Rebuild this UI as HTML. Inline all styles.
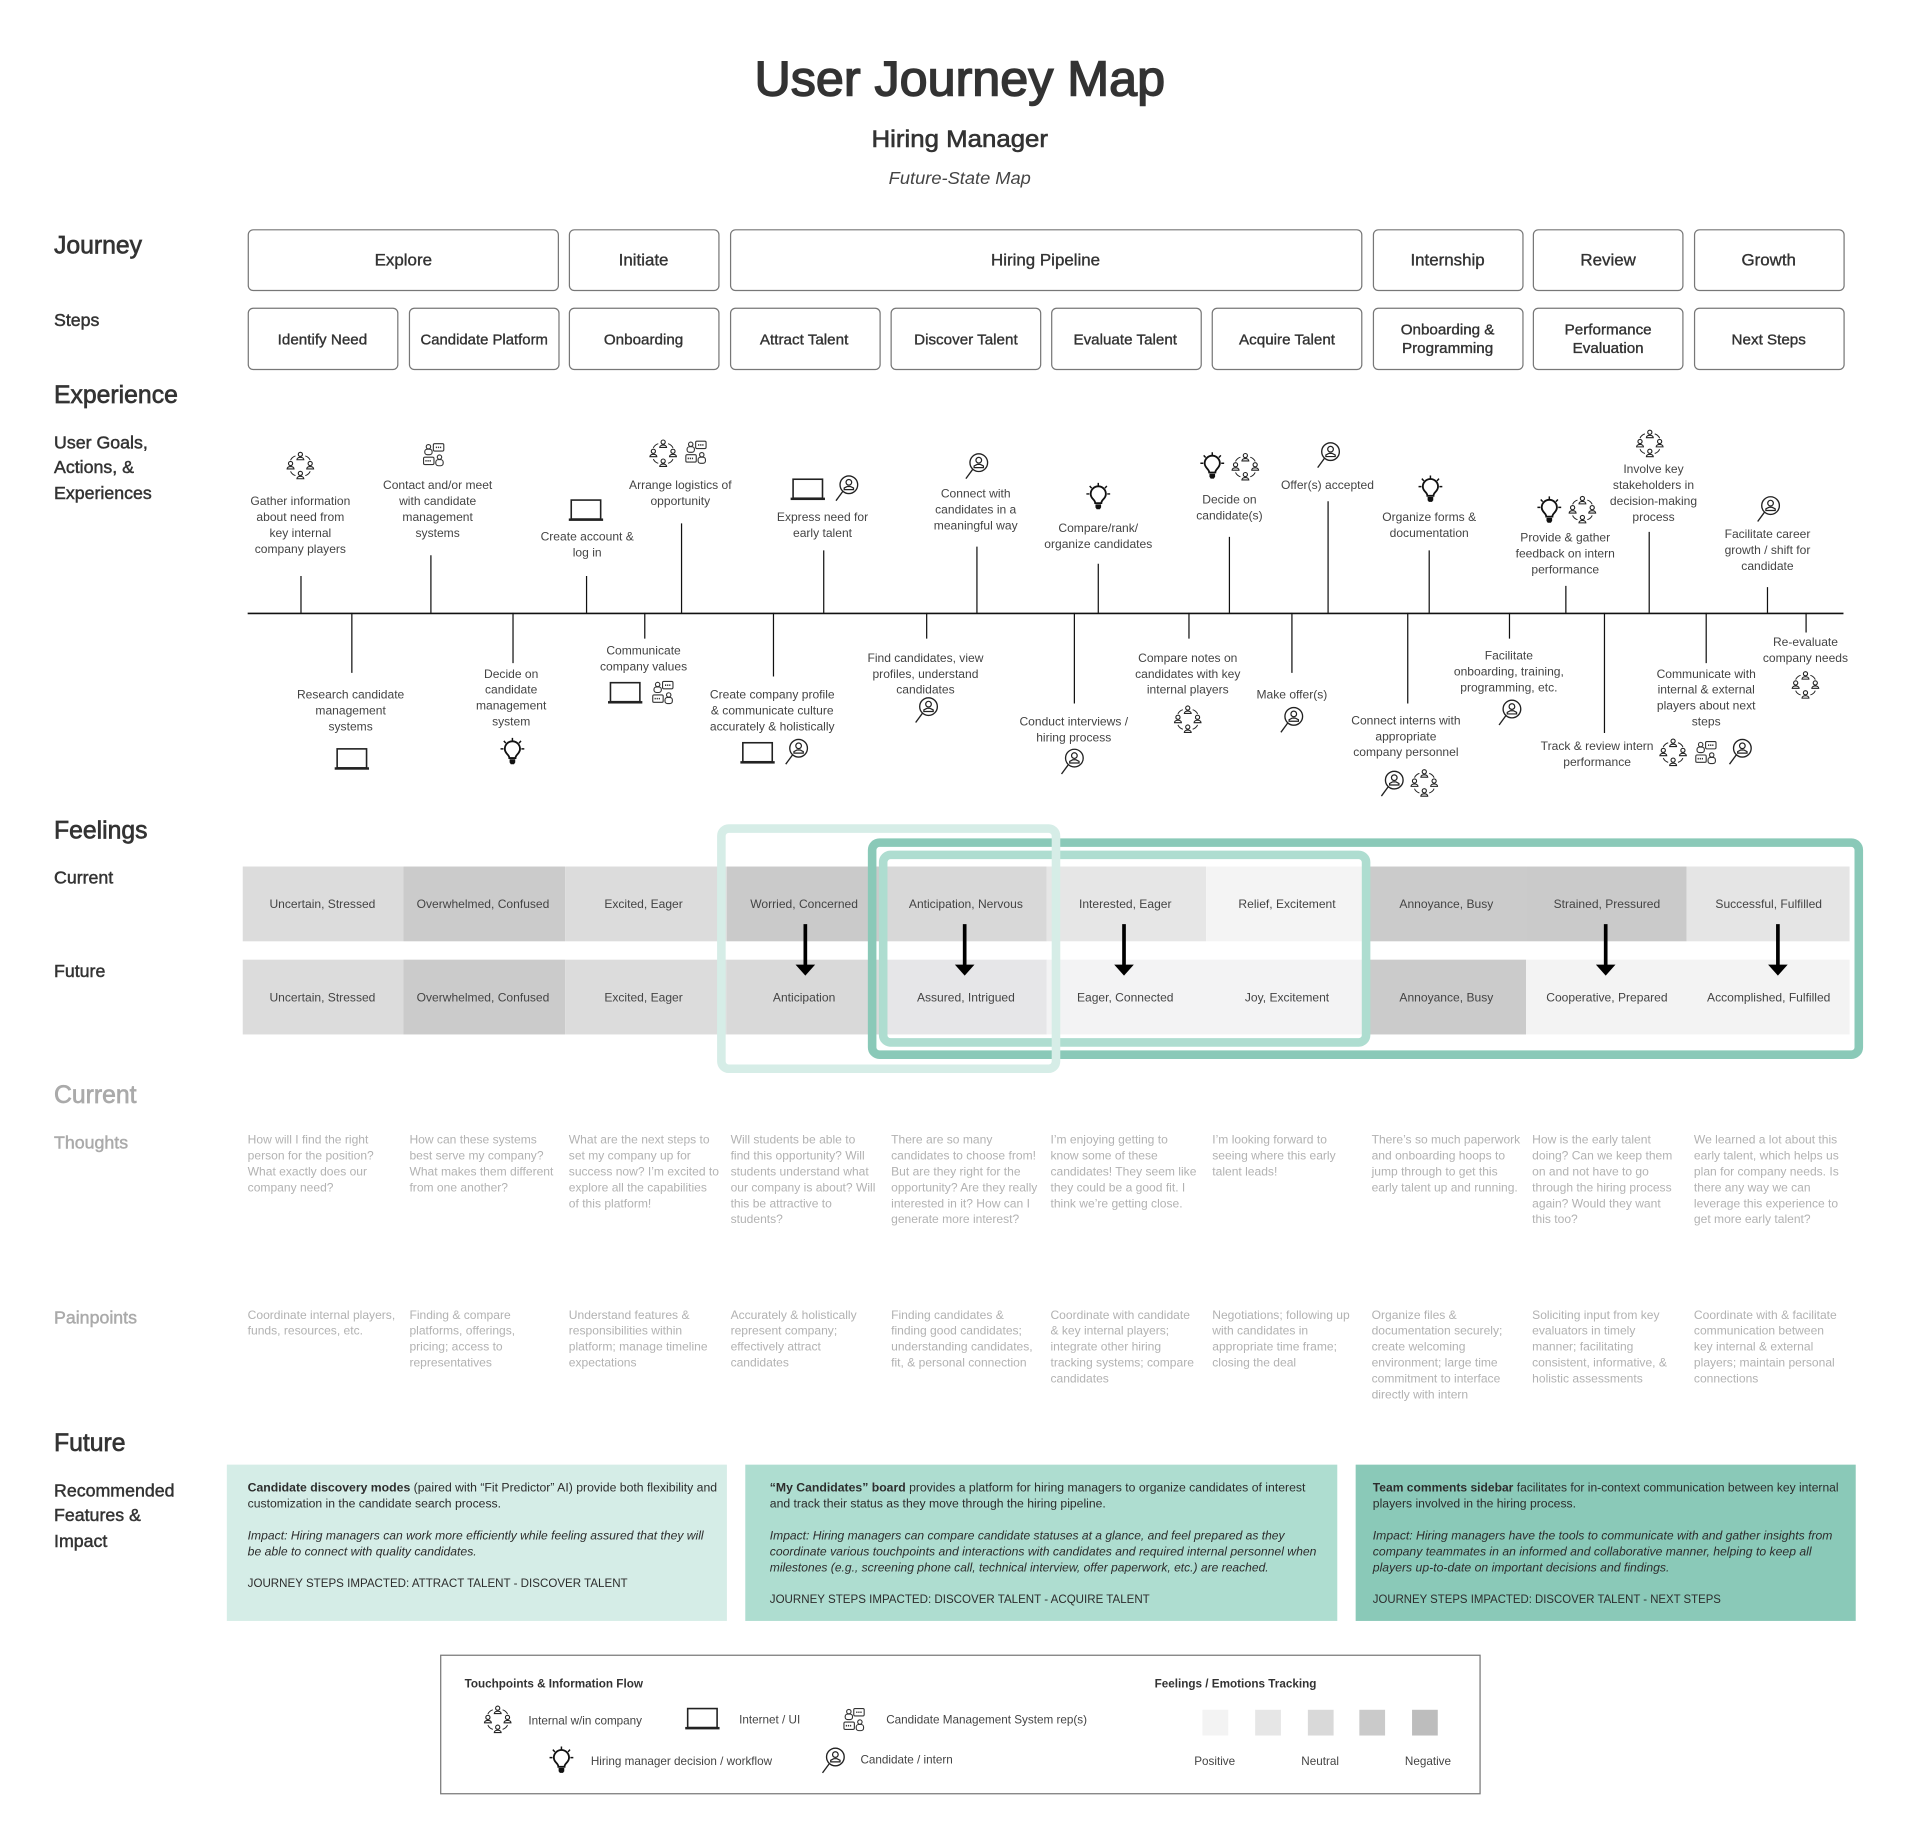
<!DOCTYPE html>
<html><head><meta charset="utf-8"><title>User Journey Map</title>
<style>
html,body{margin:0;padding:0;background:#fff}
svg{display:block}
text{font-family:"Liberation Sans",sans-serif}
.c text{text-anchor:middle;font-size:9.85px;fill:#444}
.th text{font-size:9.85px;fill:#b2b2b2}
.b text{font-size:12.4px;text-anchor:middle;fill:#333;stroke:#333;stroke-width:.3}
.b .j{font-size:13.8px}
.h{font-size:20.2px;fill:#333;stroke:#333;stroke-width:.55}
.s{font-size:14.5px;fill:#333;stroke:#333;stroke-width:.38}
.r text{font-size:9.95px;fill:#2c2c2c}
.f text{font-size:9.85px;text-anchor:middle;fill:#444}
.ic{fill:none;stroke:#222;stroke-width:.9}
.lg text{font-size:9.55px;fill:#444}
</style></head><body>
<svg xmlns="http://www.w3.org/2000/svg" width="1922" height="1825" viewBox="0 0 1568 1489">
<defs>
<g id="pn" class="ic"><circle cx="0" cy="-1.8" r="1.7"/><path d="M-2.8 2.6c0-2.6 5.6-2.6 5.6 0z"/></g>
<g id="ppl" stroke="#333" fill="none" stroke-width=".8">
<use href="#pn" x="0" y="-7.5"/><use href="#pn" x="-8" y="0"/><use href="#pn" x="8" y="0"/><use href="#pn" x="0" y="8"/>
<path d="M-4 -8Q-7 -7 -8 -4.500M4 -8Q7 -7 8 -4.500M-4 8Q-7 7 -8 4.500M4 8Q7 7 8 4.500" stroke="#222"/>
</g>
<g id="lap"><rect x="-12" y="-8" width="24" height="15.5" fill="#fff" stroke="#222" stroke-width="1.3"/><rect x="-14" y="7" width="28" height="2" fill="#222"/></g>
<g id="bulb"><path d="M-2.5 4.5c0-3-3.7-3.5-3.7-7.5a6.2 6.2 0 0 1 12.4 0c0 4-3.7 4.5-3.7 7.5z" fill="#fff" stroke="#111" stroke-width="1.5"/><path d="M-2.3 5.5h4.6v2.5l-1 1.5h-2.6l-1-1.5z" fill="#111"/><path d="M0 -12v2.6M-7 -9.5l1.6 1.8M7 -9.5l-1.6 1.8M-9.7 -3h2.4M9.7 -3h-2.4" stroke="#111" stroke-width="1.2"/></g>
<g id="mag"><circle cx="1.5" cy="-2.5" r="7.2" fill="#fff" stroke="#222" stroke-width="1.1"/><path d="M-3.500 3l-5.500 7.500" stroke="#222" stroke-width="1.1"/><circle cx="1.5" cy="-4.5" r="2.3" fill="none" stroke="#222"/><path d="M-2.300 1.500v-1.300l2.500-1.300h2.600l2.500 1.300v1.300z" fill="none" stroke="#222"/></g>
<g id="cms" fill="none" stroke="#333" stroke-width=".9"><circle cx="-5.5" cy="-6.5" r="1.8"/><rect x="-8.5" y="-4.5" width="6" height="4.5" rx="2"/><rect x="-1.5" y="-9" width="8.5" height="6" rx="1"/><path d="M.5 -6h4.500M-8 5h4.500" stroke-dasharray="1 .7" stroke-width="1.3"/><rect x="-9.5" y="2" width="8.5" height="6" rx="1"/><circle cx="3.5" cy="2" r="1.8"/><rect x=".5" y="4" width="6" height="5" rx="2"/></g>
</defs>
<rect width="1568" height="1489" fill="#fff"/>

<text x="783" y="78" text-anchor="middle" font-size="40" fill="#333" stroke="#333" stroke-width="1.2" textLength="335" lengthAdjust="spacingAndGlyphs">User Journey Map</text>
<text x="783" y="120" text-anchor="middle" font-size="19.5" fill="#333" stroke="#333" stroke-width=".5" textLength="144" lengthAdjust="spacingAndGlyphs">Hiring Manager</text>
<text x="783" y="150" text-anchor="middle" font-size="14" font-style="italic" fill="#444" textLength="116" lengthAdjust="spacingAndGlyphs">Future-State Map</text>

<text class="h" x="44" y="207">Journey</text>
<text class="s" x="44" y="266">Steps</text>
<text class="h" x="44" y="329">Experience</text>
<text class="s" x="44" y="366">User Goals,</text>
<text class="s" x="44" y="386">Actions, &amp;</text>
<text class="s" x="44" y="407">Experiences</text>
<text class="h" x="44" y="684">Feelings</text>
<text class="s" x="44" y="721">Current</text>
<text class="s" x="44" y="797">Future</text>
<text class="h" x="44" y="900" style="fill:#aaa;stroke:#aaa">Current</text>
<text class="s" x="44" y="937" style="fill:#aaa;stroke:#aaa">Thoughts</text>
<text class="s" x="44" y="1080" style="fill:#aaa;stroke:#aaa">Painpoints</text>
<text class="h" x="44" y="1184">Future</text>
<text class="s" x="44" y="1221">Recommended</text>
<text class="s" x="44" y="1241">Features &amp;</text>
<text class="s" x="44" y="1262">Impact</text>

<g fill="#fff" stroke="#777" stroke-width="1">
<rect x="202.5" y="187.5" width="253" height="49.5" rx="4"/><rect x="464.5" y="187.5" width="122" height="49.5" rx="4"/><rect x="596" y="187.5" width="515" height="49.5" rx="4"/><rect x="1120.5" y="187.5" width="122" height="49.5" rx="4"/><rect x="1251" y="187.5" width="122" height="49.5" rx="4"/><rect x="1382.5" y="187.5" width="122" height="49.5" rx="4"/>
<rect x="202.5" y="251.5" width="122" height="50" rx="4"/><rect x="334" y="251.5" width="122" height="50" rx="4"/><rect x="464.5" y="251.5" width="122" height="50" rx="4"/><rect x="596" y="251.5" width="122" height="50" rx="4"/><rect x="727" y="251.5" width="122" height="50" rx="4"/><rect x="858" y="251.5" width="122" height="50" rx="4"/><rect x="989" y="251.5" width="122" height="50" rx="4"/><rect x="1120.5" y="251.5" width="122" height="50" rx="4"/><rect x="1251" y="251.5" width="122" height="50" rx="4"/><rect x="1382.5" y="251.5" width="122" height="50" rx="4"/>
</g>
<g class="b">
<text class="j" x="329" y="216.500">Explore</text><text class="j" x="525" y="216.500">Initiate</text><text class="j" x="853" y="216.500">Hiring Pipeline</text><text class="j" x="1181" y="216.500">Internship</text><text class="j" x="1312" y="216.500">Review</text><text class="j" x="1443" y="216.500">Growth</text>
<text x="263" y="281">Identify Need</text><text x="395" y="281" textLength="104" lengthAdjust="spacingAndGlyphs">Candidate Platform</text><text x="525" y="281">Onboarding</text><text x="656" y="281">Attract Talent</text><text x="788" y="281">Discover Talent</text><text x="918" y="281">Evaluate Talent</text><text x="1050" y="281">Acquire Talent</text>
<text x="1181" y="273">Onboarding &amp;</text><text x="1181" y="288">Programming</text><text x="1312" y="273">Performance</text><text x="1312" y="288">Evaluation</text><text x="1443" y="281">Next Steps</text>
</g>

<!-- timeline -->
<g stroke="#111" stroke-width="1">
<path d="M202 500.5H1504" stroke-width="1.3"/>
<path d="M245.500 470V500M351.500 453V500M478.500 470V500M556 427V500M672 449V500M797 446V500M896 460V500M1003 438V500M1083.500 409V500M1166 449V500M1277.500 478V500M1345.500 434V500M1442 479V500"/>
<path d="M287 500V549M418.500 500V541M526 500V521M631 500V552M756 500V521M876.500 500V574M970 500V521M1054 500V549M1148.500 500V574M1231.500 500V521M1309 500V598M1392 500V541M1473.500 500V516"/>
</g>

<g class="c">
<text x="245" y="412">Gather information</text><text x="245" y="425">about need from</text><text x="245" y="438">key internal</text><text x="245" y="451">company players</text>
<text x="357" y="399">Contact and/or meet</text><text x="357" y="412">with candidate</text><text x="357" y="425">management</text><text x="357" y="438">systems</text>
<text x="479" y="441">Create account &amp;</text><text x="479" y="454">log in</text>
<text x="555" y="399">Arrange logistics of</text><text x="555" y="412">opportunity</text>
<text x="671" y="425">Express need for</text><text x="671" y="438">early talent</text>
<text x="796" y="406">Connect with</text><text x="796" y="419">candidates in a</text><text x="796" y="432">meaningful way</text>
<text x="896" y="434">Compare/rank/</text><text x="896" y="447">organize candidates</text>
<text x="1003" y="411">Decide on</text><text x="1003" y="424">candidate(s)</text>
<text x="1083" y="399">Offer(s) accepted</text>
<text x="1166" y="425">Organize forms &amp;</text><text x="1166" y="438">documentation</text>
<text x="1277" y="442">Provide &amp; gather</text><text x="1277" y="455">feedback on intern</text><text x="1277" y="468">performance</text>
<text x="1349" y="386">Involve key</text><text x="1349" y="399">stakeholders in</text><text x="1349" y="412">decision-making</text><text x="1349" y="425">process</text>
<text x="1442" y="439">Facilitate career</text><text x="1442" y="452">growth / shift for</text><text x="1442" y="465">candidate</text>

<text x="286" y="570">Research candidate</text><text x="286" y="583">management</text><text x="286" y="596">systems</text>
<text x="417" y="553">Decide on</text><text x="417" y="566">candidate</text><text x="417" y="579">management</text><text x="417" y="592">system</text>
<text x="525" y="534">Communicate</text><text x="525" y="547">company values</text>
<text x="630" y="570">Create company profile</text><text x="630" y="583">&amp; communicate culture</text><text x="630" y="596">accurately &amp; holistically</text>
<text x="755" y="540">Find candidates, view</text><text x="755" y="553">profiles, understand</text><text x="755" y="566">candidates</text>
<text x="876" y="592">Conduct interviews /</text><text x="876" y="605">hiring process</text>
<text x="969" y="540">Compare notes on</text><text x="969" y="553">candidates with key</text><text x="969" y="566">internal players</text>
<text x="1054" y="570">Make offer(s)</text>
<text x="1147" y="591">Connect interns with</text><text x="1147" y="604">appropriate</text><text x="1147" y="617">company personnel</text>
<text x="1231" y="538">Facilitate</text><text x="1231" y="551">onboarding, training,</text><text x="1231" y="564">programming, etc.</text>
<text x="1303" y="612">Track &amp; review intern</text><text x="1303" y="625">performance</text>
<text x="1392" y="553">Communicate with</text><text x="1392" y="566">internal &amp; external</text><text x="1392" y="579">players about next</text><text x="1392" y="592">steps</text>
<text x="1473" y="527">Re-evaluate</text><text x="1473" y="540">company needs</text>
</g>

<!-- icons -->
<use href="#ppl" x="245" y="380"/><use href="#cms" x="355" y="371"/><use href="#lap" x="478" y="416"/><use href="#ppl" x="541" y="370"/><use href="#cms" x="569" y="369"/><use href="#lap" x="659" y="399"/><use href="#mag" x="691" y="398"/><use href="#mag" x="797" y="380"/><use href="#bulb" x="896" y="406"/><use href="#bulb" x="989" y="381"/><use href="#ppl" x="1016" y="381"/><use href="#mag" x="1084" y="371"/><use href="#bulb" x="1167" y="400"/><use href="#bulb" x="1264" y="417"/><use href="#ppl" x="1291" y="416"/><use href="#ppl" x="1346" y="362"/><use href="#mag" x="1443" y="415"/>
<use href="#lap" x="287" y="619"/><use href="#bulb" x="418" y="614"/><use href="#lap" x="510" y="565"/><use href="#cms" x="542" y="565"/><use href="#lap" x="618" y="614"/><use href="#mag" x="650" y="613"/><use href="#mag" x="756" y="579"/><use href="#mag" x="875" y="621"/><use href="#ppl" x="969" y="587"/><use href="#mag" x="1054" y="587"/><use href="#mag" x="1136" y="639"/><use href="#ppl" x="1162" y="639"/><use href="#mag" x="1232" y="581"/><use href="#ppl" x="1365" y="614"/><use href="#cms" x="1393" y="614"/><use href="#mag" x="1420" y="613"/><use href="#ppl" x="1473" y="559"/>

<!-- feelings -->
<g>
<rect x="198" y="707" width="131" height="61" fill="#dcdcdc"/><rect x="329" y="707" width="132" height="61" fill="#cbcbcb"/><rect x="461" y="707" width="132" height="61" fill="#dcdcdc"/><rect x="593" y="707" width="131" height="61" fill="#cacaca"/><rect x="724" y="707" width="130" height="61" fill="#d8d8d8"/><rect x="854" y="707" width="130" height="61" fill="#e6e6e6"/><rect x="984" y="707" width="133" height="61" fill="#f4f4f4"/><rect x="1117" y="707" width="128" height="61" fill="#cbcbcb"/><rect x="1245" y="707" width="131" height="61" fill="#cacaca"/><rect x="1376" y="707" width="133" height="61" fill="#e5e5e5"/>
<rect x="198" y="783" width="131" height="61" fill="#dcdcdc"/><rect x="329" y="783" width="132" height="61" fill="#cbcbcb"/><rect x="461" y="783" width="132" height="61" fill="#dcdcdc"/><rect x="593" y="783" width="131" height="61" fill="#d9d9d9"/><rect x="724" y="783" width="130" height="61" fill="#e6e6e8"/><rect x="854" y="783" width="263" height="61" fill="#f3f3f4"/><rect x="1117" y="783" width="128" height="61" fill="#cbcbcb"/><rect x="1245" y="783" width="264" height="61" fill="#f3f3f3"/>
</g>
<g class="f">
<text x="263" y="741">Uncertain, Stressed</text><text x="394" y="741">Overwhelmed, Confused</text><text x="525" y="741">Excited, Eager</text><text x="656" y="741">Worried, Concerned</text><text x="788" y="741">Anticipation, Nervous</text><text x="918" y="741">Interested, Eager</text><text x="1050" y="741">Relief, Excitement</text><text x="1180" y="741">Annoyance, Busy</text><text x="1311" y="741">Strained, Pressured</text><text x="1443" y="741">Successful, Fulfilled</text>
<text x="263" y="817">Uncertain, Stressed</text><text x="394" y="817">Overwhelmed, Confused</text><text x="525" y="817">Excited, Eager</text><text x="656" y="817">Anticipation</text><text x="788" y="817">Assured, Intrigued</text><text x="918" y="817">Eager, Connected</text><text x="1050" y="817">Joy, Excitement</text><text x="1180" y="817">Annoyance, Busy</text><text x="1311" y="817">Cooperative, Prepared</text><text x="1443" y="817">Accomplished, Fulfilled</text>
</g>
<g fill="none">
<rect x="711.500" y="687.500" width="805" height="173" rx="6" stroke="#8ac9b8" stroke-width="7"/>
<rect x="720.500" y="697.500" width="394" height="153" rx="6" stroke="#aeddd0" stroke-width="7"/>
<rect x="588.500" y="676" width="273" height="196" rx="6" stroke="#d6ede7" stroke-width="7"/>
</g>
<g fill="#000">
<path d="M655.500 754h3v33h6.500l-8 9-8-9h6.500z"/><path d="M785.500 754h3v33h6.500l-8 9-8-9h6.500z"/><path d="M915.500 754h3v33h6.500l-8 9-8-9h6.500z"/><path d="M1308.500 754h3v33h6.500l-8 9-8-9h6.500z"/><path d="M1449 754h3v33h6.500l-8 9-8-9h6.500z"/>
</g>

<!-- thoughts -->
<g class="th">
<text x="202" y="933">How will I find the right</text><text x="202" y="946">person for the position?</text><text x="202" y="959">What exactly does our</text><text x="202" y="972">company need?</text>
<text x="334" y="933">How can these systems</text><text x="334" y="946">best serve my company?</text><text x="334" y="959">What makes them different</text><text x="334" y="972">from one another?</text>
<text x="464" y="933">What are the next steps to</text><text x="464" y="946">set my company up for</text><text x="464" y="959">success now? I’m excited to</text><text x="464" y="972">explore all the capabilities</text><text x="464" y="985">of this platform!</text>
<text x="596" y="933">Will students be able to</text><text x="596" y="946">find this opportunity? Will</text><text x="596" y="959">students understand what</text><text x="596" y="972">our company is about? Will</text><text x="596" y="985">this be attractive to</text><text x="596" y="998">students?</text>
<text x="727" y="933">There are so many</text><text x="727" y="946">candidates to choose from!</text><text x="727" y="959">But are they right for the</text><text x="727" y="972">opportunity? Are they really</text><text x="727" y="985">interested in it? How can I</text><text x="727" y="998">generate more interest?</text>
<text x="857" y="933">I’m enjoying getting to</text><text x="857" y="946">know some of these</text><text x="857" y="959">candidates! They seem like</text><text x="857" y="972">they could be a good fit. I</text><text x="857" y="985">think we’re getting close.</text>
<text x="989" y="933">I’m looking forward to</text><text x="989" y="946">seeing where this early</text><text x="989" y="959">talent leads!</text>
<text x="1119" y="933">There’s so much paperwork</text><text x="1119" y="946">and onboarding hoops to</text><text x="1119" y="959">jump through to get this</text><text x="1119" y="972">early talent up and running.</text>
<text x="1250" y="933">How is the early talent</text><text x="1250" y="946">doing? Can we keep them</text><text x="1250" y="959">on and not have to go</text><text x="1250" y="972">through the hiring process</text><text x="1250" y="985">again? Would they want</text><text x="1250" y="998">this too?</text>
<text x="1382" y="933">We learned a lot about this</text><text x="1382" y="946">early talent, which helps us</text><text x="1382" y="959">plan for company needs. Is</text><text x="1382" y="972">there any way we can</text><text x="1382" y="985">leverage this experience to</text><text x="1382" y="998">get more early talent?</text>

<text x="202" y="1076">Coordinate internal players,</text><text x="202" y="1089">funds, resources, etc.</text>
<text x="334" y="1076">Finding &amp; compare</text><text x="334" y="1089">platforms, offerings,</text><text x="334" y="1102">pricing; access to</text><text x="334" y="1115">representatives</text>
<text x="464" y="1076">Understand features &amp;</text><text x="464" y="1089">responsibilities within</text><text x="464" y="1102">platform; manage timeline</text><text x="464" y="1115">expectations</text>
<text x="596" y="1076">Accurately &amp; holistically</text><text x="596" y="1089">represent company;</text><text x="596" y="1102">effectively attract</text><text x="596" y="1115">candidates</text>
<text x="727" y="1076">Finding candidates &amp;</text><text x="727" y="1089">finding good candidates;</text><text x="727" y="1102">understanding candidates,</text><text x="727" y="1115">fit, &amp; personal connection</text>
<text x="857" y="1076">Coordinate with candidate</text><text x="857" y="1089">&amp; key internal players;</text><text x="857" y="1102">integrate other hiring</text><text x="857" y="1115">tracking systems; compare</text><text x="857" y="1128">candidates</text>
<text x="989" y="1076">Negotiations; following up</text><text x="989" y="1089">with candidates in</text><text x="989" y="1102">appropriate time frame;</text><text x="989" y="1115">closing the deal</text>
<text x="1119" y="1076">Organize files &amp;</text><text x="1119" y="1089">documentation securely;</text><text x="1119" y="1102">create welcoming</text><text x="1119" y="1115">environment; large time</text><text x="1119" y="1128">commitment to interface</text><text x="1119" y="1141">directly with intern</text>
<text x="1250" y="1076">Soliciting input from key</text><text x="1250" y="1089">evaluators in timely</text><text x="1250" y="1102">manner; facilitating</text><text x="1250" y="1115">consistent, informative, &amp;</text><text x="1250" y="1128">holistic assessments</text>
<text x="1382" y="1076">Coordinate with &amp; facilitate</text><text x="1382" y="1089">communication between</text><text x="1382" y="1102">key internal &amp; external</text><text x="1382" y="1115">players; maintain personal</text><text x="1382" y="1128">connections</text>
</g>

<!-- recommendations -->
<rect x="185" y="1195" width="408" height="127.500" fill="#d5ede7"/>
<rect x="608" y="1195" width="483" height="127.500" fill="#aeddd0"/>
<rect x="1106" y="1195" width="408" height="127.500" fill="#8ac9b8"/>
<g class="r">
<text x="202" y="1217" textLength="383" lengthAdjust="spacingAndGlyphs"><tspan font-weight="bold">Candidate discovery modes</tspan> (paired with “Fit Predictor” AI) provide both flexibility and</text>
<text x="202" y="1230">customization in the candidate search process.</text>
<text x="202" y="1256" font-style="italic" textLength="372" lengthAdjust="spacingAndGlyphs">Impact: Hiring managers can work more efficiently while feeling assured that they will</text>
<text x="202" y="1269" font-style="italic">be able to connect with quality candidates.</text>
<text x="202" y="1295" textLength="310" lengthAdjust="spacingAndGlyphs">JOURNEY STEPS IMPACTED: ATTRACT TALENT - DISCOVER TALENT</text>

<text x="628" y="1217" textLength="437" lengthAdjust="spacingAndGlyphs"><tspan font-weight="bold">“My Candidates” board</tspan> provides a platform for hiring managers to organize candidates of interest</text>
<text x="628" y="1230">and track their status as they move through the hiring pipeline.</text>
<text x="628" y="1256" font-style="italic" textLength="420" lengthAdjust="spacingAndGlyphs">Impact: Hiring managers can compare candidate statuses at a glance, and feel prepared as they</text>
<text x="628" y="1269" font-style="italic" textLength="446" lengthAdjust="spacingAndGlyphs">coordinate various touchpoints and interactions with candidates and required internal personnel when</text>
<text x="628" y="1282" font-style="italic" textLength="407" lengthAdjust="spacingAndGlyphs">milestones (e.g., screening phone call, technical interview, offer paperwork, etc.) are reached.</text>
<text x="628" y="1308" textLength="310" lengthAdjust="spacingAndGlyphs">JOURNEY STEPS IMPACTED: DISCOVER TALENT - ACQUIRE TALENT</text>

<text x="1120" y="1217" textLength="380" lengthAdjust="spacingAndGlyphs"><tspan font-weight="bold">Team comments sidebar</tspan> facilitates for in-context communication between key internal</text>
<text x="1120" y="1230">players involved in the hiring process.</text>
<text x="1120" y="1256" font-style="italic" textLength="375" lengthAdjust="spacingAndGlyphs">Impact: Hiring managers have the tools to communicate with and gather insights from</text>
<text x="1120" y="1269" font-style="italic" textLength="358" lengthAdjust="spacingAndGlyphs">company teammates in an informed and collaborative manner, helping to keep all</text>
<text x="1120" y="1282" font-style="italic" textLength="242" lengthAdjust="spacingAndGlyphs">players up-to-date on important decisions and findings.</text>
<text x="1120" y="1308" textLength="284" lengthAdjust="spacingAndGlyphs">JOURNEY STEPS IMPACTED: DISCOVER TALENT - NEXT STEPS</text>
</g>

<!-- legend -->
<rect x="359.500" y="1350.500" width="848" height="113" fill="#fff" stroke="#777"/>
<g class="lg">
<text x="379" y="1377" font-weight="bold" style="fill:#333">Touchpoints &amp; Information Flow</text>
<text x="942" y="1377" font-weight="bold" style="fill:#333">Feelings / Emotions Tracking</text>
<text x="431" y="1407">Internal w/in company</text>
<text x="603" y="1406">Internet / UI</text>
<text x="723" y="1406">Candidate Management System rep(s)</text>
<text x="482" y="1440">Hiring manager decision / workflow</text>
<text x="702" y="1439">Candidate / intern</text>
<text x="991" y="1440" text-anchor="middle">Positive</text>
<text x="1077" y="1440" text-anchor="middle">Neutral</text>
<text x="1165" y="1440" text-anchor="middle">Negative</text>
</g>
<use href="#ppl" x="406" y="1403"/><use href="#lap" x="573" y="1402"/><use href="#cms" x="698" y="1403"/><use href="#bulb" x="458" y="1437"/><use href="#mag" x="680" y="1436"/>
<rect x="981" y="1395" width="21" height="21" fill="#f3f3f3"/><rect x="1024" y="1395" width="21" height="21" fill="#e6e6e6"/><rect x="1067" y="1395" width="21" height="21" fill="#d9d9d9"/><rect x="1109" y="1395" width="21" height="21" fill="#cacaca"/><rect x="1152" y="1395" width="21" height="21" fill="#bdbdbd"/>
</svg>
</body></html>
